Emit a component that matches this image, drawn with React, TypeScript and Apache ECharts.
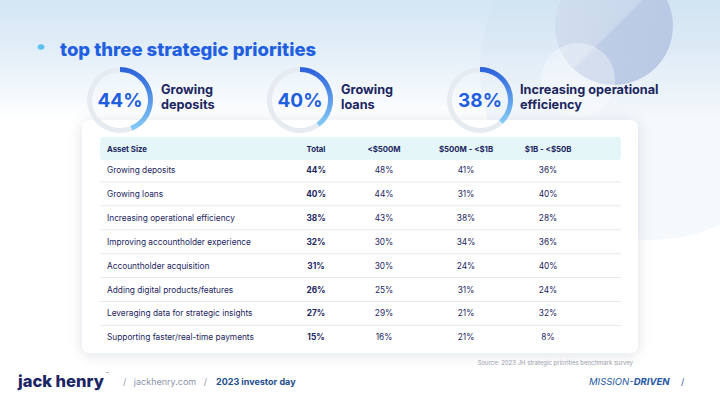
import React, { useEffect, useRef } from "react";
import * as echarts from "echarts";

const title = "top three strategic priorities";
const topValues = [44, 40, 38];
const topLabels = [["Growing", "deposits"], ["Growing", "loans"], ["Increasing operational", "efficiency"]];

const headers = ["Asset Size", "Total", "<$500M", "$500M - <$1B", "$1B - <$50B"];
const rowLabels = [
  "Growing deposits",
  "Growing loans",
  "Increasing operational efficiency",
  "Improving accountholder experience",
  "Accountholder acquisition",
  "Adding digital products/features",
  "Leveraging data for strategic insights",
  "Supporting faster/real-time payments",
];
const totals = [44, 40, 38, 32, 31, 26, 27, 15];
const under500M = [48, 44, 43, 30, 30, 25, 29, 16];
const from500Mto1B = [41, 31, 38, 34, 24, 31, 21, 21];
const from1Bto50B = [36, 40, 28, 36, 40, 24, 32, 8];
const sourceNote = "Source: 2023 JH strategic priorities benchmark survey";

const FONT = "Inter, 'Noto Sans', sans-serif";
const NAVY = "#1c2660";
const BLUE = "#1f5fe0";

export default function App() {
  const ref = useRef<HTMLDivElement>(null);
  useEffect(() => {
    const chart = echarts.init(ref.current!, null, { renderer: "svg" });
    const donutCx = [120, 300, 480];
    const cy = 100;

    const series: any[] = topValues.map((v, i) => ({
      type: "pie",
      center: [donutCx[i], cy],
      radius: [28, 33],
      startAngle: 90,
      clockwise: true,
      silent: true,
      z: 10,
      labelLine: { show: false },
      data: [
        {
          value: v,
          itemStyle: {
            color: new echarts.graphic.LinearGradient(0, 0, 0, 1, [
              { offset: 0, color: "#2a5fd8" },
              { offset: 1, color: "#86cdf7" },
            ]),
          },
          label: {
            show: true,
            position: "center",
            formatter: "{c}%",
            fontFamily: FONT,
            fontWeight: "bold",
            fontSize: 19,
            color: BLUE,
          },
        },
        { value: 100 - v, itemStyle: { color: "#e6ebf1" }, label: { show: false } },
      ],
    }));

    const g: any[] = [];
    g.push({
      type: "rect",
      z: 0,
      shape: { x: 0, y: 0, width: 720, height: 405 },
      style: {
        fill: new echarts.graphic.LinearGradient(0, 0, 0, 1, [
          { offset: 0, color: "#d3e6f4" },
          { offset: 0.12, color: "#e2eef8" },
          { offset: 0.3, color: "#ffffff" },
          { offset: 1, color: "#ffffff" },
        ]),
      },
    });
    g.push({
      type: "circle",
      z: 1,
      shape: { cx: 650, cy: 70, r: 170 },
      style: { fill: "rgba(200,215,235,0.16)" },
    });
    g.push({
      type: "circle",
      z: 1,
      shape: { cx: 614, cy: 26, r: 59 },
      style: {
        fill: new echarts.graphic.LinearGradient(0, 0, 1, 1, [
          { offset: 0, color: "rgba(210,220,238,0.5)" },
          { offset: 0.5, color: "rgba(195,207,230,0.6)" },
          { offset: 0.52, color: "rgba(180,195,225,0.75)" },
          { offset: 1, color: "rgba(172,190,224,0.8)" },
        ]),
      },
    });
    g.push({
      type: "circle",
      z: 1,
      shape: { cx: 578, cy: 80, r: 37 },
      style: { fill: "rgba(255,255,255,0.35)" },
    });
    g.push({
      type: "ellipse",
      z: 3,
      shape: { cx: 41, cy: 47, rx: 3.5, ry: 2.8 },
      style: { fill: "#5cc2f2" },
    });
    g.push({
      type: "text",
      z: 3,
      x: 60,
      y: 49,
      style: { text: title, fontFamily: FONT, fontWeight: 800, fontSize: 18.5, fill: BLUE, verticalAlign: "middle" },
    });
    const labelX = [161, 341, 520];
    topLabels.forEach((lines, i) => {
      lines.forEach((ln, j) => {
        g.push({
          type: "text",
          z: 3,
          x: labelX[i],
          y: 89 + j * 15,
          style: { text: ln, fontFamily: FONT, fontWeight: "bold", fontSize: 12.7, fill: NAVY, verticalAlign: "middle" },
        });
      });
    });
    g.push({
      type: "rect",
      z: 2,
      shape: { x: 82, y: 120, width: 556, height: 233, r: 8 },
      style: { fill: "#ffffff", shadowBlur: 14, shadowColor: "rgba(30,40,80,0.12)", shadowOffsetY: 2 },
    });
    g.push({
      type: "rect",
      z: 3,
      shape: { x: 100, y: 137, width: 521, height: 23, r: 3 },
      style: { fill: "#e4f6f8" },
    });
    const colX = [107, 316, 384, 466, 548];
    headers.forEach((h, c) => {
      g.push({
        type: "text",
        z: 4,
        x: colX[c],
        y: 148.5,
        style: {
          text: h,
          fontFamily: FONT,
          fontWeight: "bold",
          fontSize: 7.8,
          fill: NAVY,
          align: c === 0 ? "left" : "center",
          verticalAlign: "middle",
        },
      });
    });
    const cols = [totals, under500M, from500Mto1B, from1Bto50B];
    const step = 23.9;
    rowLabels.forEach((lbl, r) => {
      const y = 170 + r * step;
      g.push({
        type: "text",
        z: 4,
        x: colX[0],
        y,
        style: { text: lbl, fontFamily: FONT, fontSize: 8.3, fill: NAVY, verticalAlign: "middle" },
      });
      cols.forEach((arr, c) => {
        g.push({
          type: "text",
          z: 4,
          x: colX[c + 1],
          y,
          style: {
            text: arr[r] + "%",
            fontFamily: FONT,
            fontSize: 8.3,
            fontWeight: c === 0 ? "bold" : "normal",
            fill: NAVY,
            align: "center",
            verticalAlign: "middle",
          },
        });
      });
      if (r < rowLabels.length - 1) {
        g.push({
          type: "line",
          z: 4,
          shape: { x1: 100, y1: y + step / 2, x2: 621, y2: y + step / 2 },
          style: { stroke: "#e6e9ee", lineWidth: 1 },
        });
      }
    });
    g.push({
      type: "text",
      z: 4,
      x: 633,
      y: 362,
      style: { text: sourceNote, fontFamily: FONT, fontSize: 6, fill: "#9aa0ad", align: "right", verticalAlign: "middle" },
    });
    g.push({
      type: "text",
      z: 4,
      x: 18,
      y: 381,
      style: { text: "jack henry", fontFamily: FONT, fontWeight: 800, fontSize: 16.5, fill: "#1b2464", verticalAlign: "middle" },
    });
    g.push({
      type: "text",
      z: 4,
      x: 106,
      y: 373,
      style: { text: "™", fontFamily: FONT, fontSize: 4, fill: "#1b2464", verticalAlign: "middle" },
    });
    g.push({
      type: "text",
      z: 4,
      x: 123,
      y: 381,
      style: { text: "/   jackhenry.com   /", fontFamily: FONT, fontSize: 9, fill: "#8a94aa", verticalAlign: "middle" },
    });
    g.push({
      type: "text",
      z: 4,
      x: 216,
      y: 381,
      style: { text: "2023 investor day", fontFamily: FONT, fontWeight: "bold", fontSize: 9, fill: "#1d4e90", verticalAlign: "middle" },
    });
    g.push({
      type: "text",
      z: 4,
      x: 589,
      y: 381,
      style: {
        text: "{a|MISSION-}{b|DRIVEN}",
        verticalAlign: "middle",
        rich: {
          a: { fontFamily: FONT, fontStyle: "italic", fontSize: 9.5, fill: "#2558a3" },
          b: { fontFamily: FONT, fontStyle: "italic", fontWeight: "bold", fontSize: 9.5, fill: "#2558a3" },
        },
      },
    });
    g.push({
      type: "text",
      z: 4,
      x: 681,
      y: 381,
      style: { text: "/", fontFamily: FONT, fontSize: 9, fill: "#2558a3", verticalAlign: "middle" },
    });

    chart.setOption({
      animation: false,
      graphic: { elements: g },
      series,
    });
    return () => chart.dispose();
  }, []);
  return (
    <div
      ref={ref}
      style={{ position: "fixed", left: 0, top: 0, width: 720, height: 405, background: "#ffffff" }}
    />
  );
}
